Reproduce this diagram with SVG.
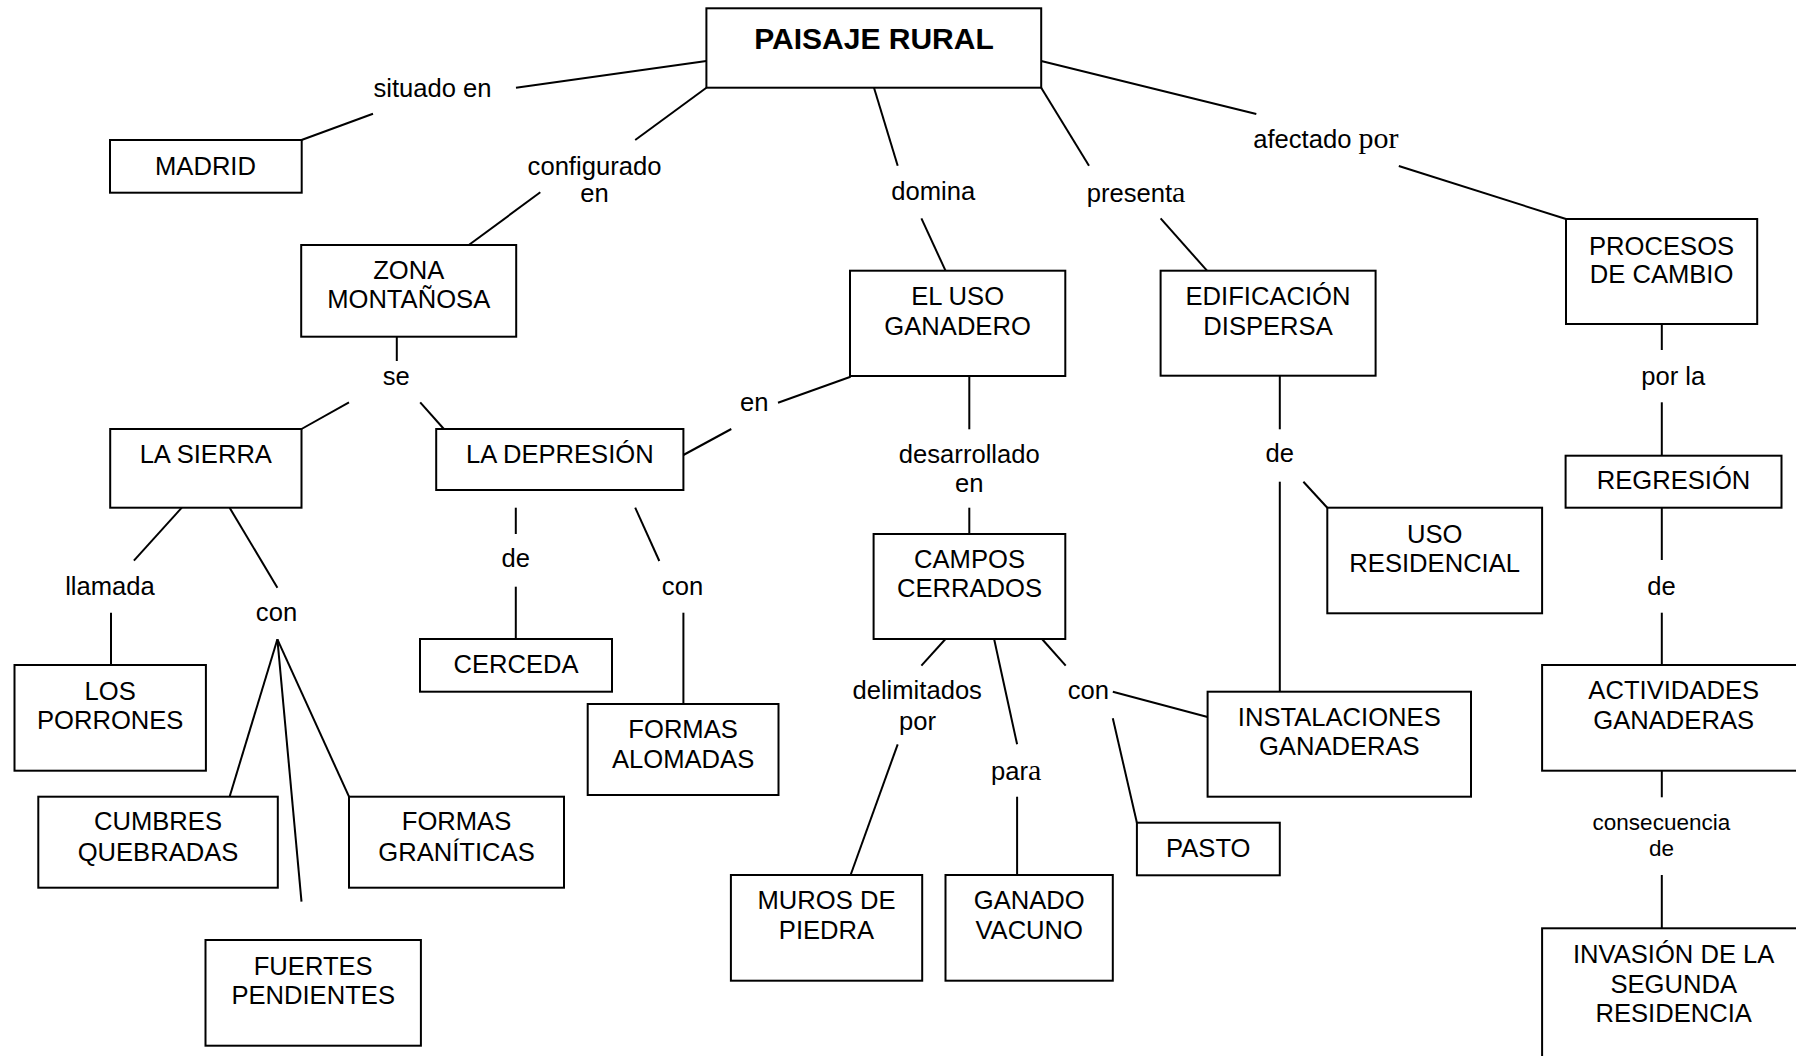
<svg xmlns="http://www.w3.org/2000/svg" width="1796" height="1056" viewBox="0 0 1796 1056">
<style>
.box{fill:#fff;stroke:#000;stroke-width:2}
.ln{stroke:#000;stroke-width:2;fill:none}
text{font-family:"Liberation Sans",Arial,sans-serif;font-size:25.6px;fill:#000;text-anchor:middle}
.st{text-anchor:start}
.sm{font-size:22.5px}
.ser{font-family:"Liberation Serif","Times New Roman",serif;font-size:30px}
.title{font-weight:bold;font-size:30px}
</style>
<rect x="0" y="0" width="1796" height="1056" fill="#fff"/>
<g id="connectors">
<line class="ln" x1="516" y1="87.7" x2="706.4" y2="61"/>
<line class="ln" x1="301.5" y1="140" x2="373" y2="113.7"/>
<line class="ln" x1="635.2" y1="140" x2="706.4" y2="87.7"/>
<line class="ln" x1="540.3" y1="192.3" x2="468.8" y2="245"/>
<line class="ln" x1="874" y1="87.7" x2="897.7" y2="165.7"/>
<line class="ln" x1="921.4" y1="218.3" x2="945.5" y2="270.7"/>
<line class="ln" x1="1041.2" y1="87.7" x2="1089" y2="165.7"/>
<line class="ln" x1="1160.6" y1="218.3" x2="1207" y2="270.7"/>
<line class="ln" x1="1041.2" y1="61" x2="1256.3" y2="114"/>
<line class="ln" x1="1398.8" y1="166" x2="1566" y2="219"/>
<line class="ln" x1="396.8" y1="336.7" x2="396.8" y2="361"/>
<line class="ln" x1="349" y1="402.3" x2="301.5" y2="429"/>
<line class="ln" x1="420.2" y1="402.3" x2="443.9" y2="429"/>
<line class="ln" x1="181.8" y1="507.7" x2="133.9" y2="560.7"/>
<line class="ln" x1="229.6" y1="507.7" x2="277.4" y2="587.7"/>
<line class="ln" x1="111" y1="612.7" x2="111" y2="665"/>
<line class="ln" x1="277.4" y1="639.3" x2="229.6" y2="796.7"/>
<line class="ln" x1="277.4" y1="639.3" x2="301.5" y2="901.7"/>
<line class="ln" x1="277.4" y1="639.3" x2="349" y2="796.7"/>
<line class="ln" x1="515.8" y1="507.7" x2="515.8" y2="534"/>
<line class="ln" x1="515.8" y1="586.7" x2="515.8" y2="639"/>
<line class="ln" x1="635.2" y1="507.7" x2="659.3" y2="561"/>
<line class="ln" x1="683.4" y1="612.7" x2="683.4" y2="704"/>
<line class="ln" x1="683.4" y1="455" x2="731.3" y2="429"/>
<line class="ln" x1="778" y1="402.7" x2="850.6" y2="376.7"/>
<line class="ln" x1="969.3" y1="376" x2="969.3" y2="429.3"/>
<line class="ln" x1="969.3" y1="507.7" x2="969.3" y2="534"/>
<line class="ln" x1="945.5" y1="639" x2="921.4" y2="665.7"/>
<line class="ln" x1="994.1" y1="639" x2="1017.1" y2="744.3"/>
<line class="ln" x1="1042" y1="639" x2="1065.7" y2="665.7"/>
<line class="ln" x1="897.7" y1="744.3" x2="850.6" y2="875"/>
<line class="ln" x1="1017.1" y1="796.7" x2="1017.1" y2="875"/>
<line class="ln" x1="1112.8" y1="691.7" x2="1207.6" y2="717"/>
<line class="ln" x1="1112.8" y1="718.3" x2="1136.9" y2="822.7"/>
<line class="ln" x1="1279.8" y1="375.7" x2="1279.8" y2="429.3"/>
<line class="ln" x1="1279.8" y1="481.7" x2="1279.8" y2="691.7"/>
<line class="ln" x1="1303.4" y1="481.7" x2="1327.3" y2="507.7"/>
<line class="ln" x1="1661.8" y1="324" x2="1661.8" y2="350"/>
<line class="ln" x1="1661.8" y1="402.3" x2="1661.8" y2="455.7"/>
<line class="ln" x1="1661.8" y1="507.7" x2="1661.8" y2="560"/>
<line class="ln" x1="1661.8" y1="612.7" x2="1661.8" y2="665"/>
<line class="ln" x1="1661.8" y1="770.7" x2="1661.8" y2="797.3"/>
<line class="ln" x1="1661.8" y1="875" x2="1661.8" y2="928.3"/>
</g>
<g id="labels">
<text x="432.5" y="96.7">situado en</text>
<text x="594.5" y="175">configurado</text>
<text x="594.5" y="202">en</text>
<text x="933.3" y="200">domina</text>
<text class="st" x="1086.7" y="201.7">present<tspan class="ser">a</tspan></text>
<text class="st" x="1253.2" y="148.3">afectado <tspan class="ser">por</tspan></text>
<text x="396.2" y="385">se</text>
<text x="754.2" y="410.7">en</text>
<text x="969.3" y="463.3">desarrollado</text>
<text x="969.3" y="492.3">en</text>
<text x="1279.8" y="461.7">de</text>
<text x="1673.2" y="385">por la</text>
<text x="110" y="595">llamada</text>
<text x="276.5" y="621">con</text>
<text x="515.8" y="567.3">de</text>
<text x="682.5" y="595">con</text>
<text x="917.2" y="699.3">delimitados</text>
<text x="917.6" y="729.5">por</text>
<text x="1088.3" y="699.3">con</text>
<text class="st" x="991" y="780">par<tspan class="ser">a</tspan></text>
<text x="1661.4" y="595">de</text>
<text class="sm" x="1661.4" y="830">consecuencia</text>
<text class="sm" x="1661.4" y="856">de</text>
</g>
<g id="n-paisaje"><rect class="box" x="706.4" y="8.3" width="334.8" height="79.4"/><text class="title" x="874" y="49.3">PAISAJE RURAL</text></g>
<g id="n-madrid"><rect class="box" x="110" y="140" width="191.7" height="52.7"/><text x="205.5" y="175.3">MADRID</text></g>
<g id="n-zona"><rect class="box" x="301.2" y="245" width="215" height="91.7"/><text x="408.7" y="279.3">ZONA</text><text x="408.7" y="308.3">MONTAÑOSA</text></g>
<g id="n-sierra"><rect class="box" x="110.2" y="429" width="191.3" height="78.7"/><text x="205.8" y="463.3">LA SIERRA</text></g>
<g id="n-depresion"><rect class="box" x="436.2" y="429" width="247.2" height="61"/><text x="559.8" y="463.3">LA DEPRESIÓN</text></g>
<g id="n-porrones"><rect class="box" x="14.5" y="665" width="191.4" height="105.7"/><text x="110.2" y="700">LOS</text><text x="110.2" y="729.3">PORRONES</text></g>
<g id="n-cumbres"><rect class="box" x="38.3" y="796.7" width="239.5" height="91"/><text x="158" y="830">CUMBRES</text><text x="158" y="860.7">QUEBRADAS</text></g>
<g id="n-graniticas"><rect class="box" x="349" y="796.7" width="215" height="91"/><text x="456.5" y="830">FORMAS</text><text x="456.5" y="860.7">GRANÍTICAS</text></g>
<g id="n-fuertes"><rect class="box" x="205.5" y="940" width="215.4" height="105.7"/><text x="313.2" y="975">FUERTES</text><text x="313.2" y="1004">PENDIENTES</text></g>
<g id="n-cerceda"><rect class="box" x="420" y="639" width="192" height="52.7"/><text x="516" y="673.3">CERCEDA</text></g>
<g id="n-alomadas"><rect class="box" x="587.7" y="704" width="190.8" height="91"/><text x="683.1" y="738.3">FORMAS</text><text x="683.1" y="767.7">ALOMADAS</text></g>
<g id="n-eluso"><rect class="box" x="850" y="270.7" width="215.3" height="105.3"/><text x="957.6" y="305">EL USO</text><text x="957.6" y="334.5">GANADERO</text></g>
<g id="n-campos"><rect class="box" x="873.6" y="534" width="191.7" height="105"/><text x="969.5" y="568.3">CAMPOS</text><text x="969.5" y="597.3">CERRADOS</text></g>
<g id="n-muros"><rect class="box" x="730.9" y="875" width="191.3" height="105.7"/><text x="826.5" y="909.3">MUROS DE</text><text x="826.5" y="939.3">PIEDRA</text></g>
<g id="n-ganado"><rect class="box" x="945.5" y="875" width="167.3" height="105.7"/><text x="1029.2" y="909.3">GANADO</text><text x="1029.2" y="939.3">VACUNO</text></g>
<g id="n-pasto"><rect class="box" x="1136.9" y="822.7" width="142.9" height="52.6"/><text x="1208.3" y="856.7">PASTO</text></g>
<g id="n-edificacion"><rect class="box" x="1160.6" y="270.7" width="215" height="105"/><text x="1268" y="305">EDIFICACIÓN</text><text x="1268" y="334.5">DISPERSA</text></g>
<g id="n-usores"><rect class="box" x="1327.3" y="507.7" width="214.8" height="105.6"/><text x="1434.7" y="542.7">USO</text><text x="1434.7" y="571.7">RESIDENCIAL</text></g>
<g id="n-instalaciones"><rect class="box" x="1207.6" y="691.7" width="263.4" height="105"/><text x="1339.3" y="726">INSTALACIONES</text><text x="1339.3" y="755">GANADERAS</text></g>
<g id="n-procesos"><rect class="box" x="1566" y="219" width="191.2" height="105"/><text x="1661.6" y="255">PROCESOS</text><text x="1661.6" y="283.3">DE CAMBIO</text></g>
<g id="n-regresion"><rect class="box" x="1565.6" y="455.7" width="215.9" height="52"/><text x="1673.5" y="489.3">REGRESIÓN</text></g>
<g id="n-actividades"><rect class="box" x="1542.1" y="665" width="263.2" height="105.7"/><text x="1673.7" y="699.3">ACTIVIDADES</text><text x="1673.7" y="729.3">GANADERAS</text></g>
<g id="n-invasion"><rect class="box" x="1542.1" y="928.3" width="263.2" height="140"/><text x="1673.7" y="962.7">INVASIÓN DE LA</text><text x="1673.7" y="992.7">SEGUNDA</text><text x="1673.7" y="1021.7">RESIDENCIA</text></g>
</svg>
